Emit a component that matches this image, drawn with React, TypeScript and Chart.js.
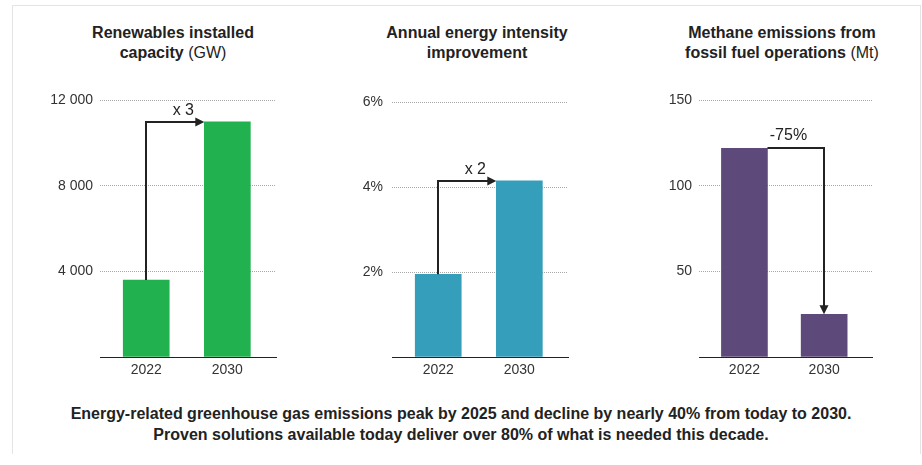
import React, { useEffect, useRef } from "react";
import { Chart, registerables } from "chart.js";

Chart.register(...registerables);

const categories = ["2022", "2030"];
const renewablesGW = [3600, 11000];
const intensityPct = [1.95, 4.15];
const methaneMt = [122, 25];

const renewablesTicks = [0, 4000, 8000, 12000];
const intensityTicks = [0, 2, 4, 6];
const methaneTicks = [0, 50, 100, 150];

const FONT = "'Liberation Sans', Arial, Helvetica, sans-serif";
const X_MIN = -0.57;
const X_MAX = 1.6;

type Mode = "up-right" | "right-down";

function makeArrowPlugin(mode: Mode, label: string) {
  return {
    id: "arrowNote",
    afterDatasetsDraw(chart: any) {
      const meta = chart.getDatasetMeta(0);
      const b0 = meta.data[0] as any;
      const b1 = meta.data[1] as any;
      const ctx = chart.ctx as CanvasRenderingContext2D;
      const head = 9;
      const hw = 4.5;
      ctx.save();
      ctx.strokeStyle = "#222";
      ctx.fillStyle = "#222";
      ctx.lineWidth = 2;
      let lx = 0;
      let ly = 0;
      if (mode === "up-right") {
        const x0 = Math.round(b0.x);
        const y0 = b0.y;
        const y1 = Math.round(b1.y);
        const x1 = b1.x - b1.width / 2;
        ctx.beginPath();
        ctx.moveTo(x0, y0);
        ctx.lineTo(x0, y1);
        ctx.lineTo(x1 - head + 1, y1);
        ctx.stroke();
        ctx.beginPath();
        ctx.moveTo(x1, y1);
        ctx.lineTo(x1 - head, y1 - hw);
        ctx.lineTo(x1 - head, y1 + hw);
        ctx.closePath();
        ctx.fill();
        lx = x1 - 21;
        ly = y1 - 11;
      } else {
        const x0 = b0.x + b0.width / 2;
        const y0 = Math.round(b0.y);
        const x1 = Math.round(b1.x);
        const y1 = b1.y;
        ctx.beginPath();
        ctx.moveTo(x0, y0);
        ctx.lineTo(x1, y0);
        ctx.lineTo(x1, y1 - head + 1);
        ctx.stroke();
        ctx.beginPath();
        ctx.moveTo(x1, y1);
        ctx.lineTo(x1 - hw, y1 - head);
        ctx.lineTo(x1 + hw, y1 - head);
        ctx.closePath();
        ctx.fill();
        lx = x0 + 21;
        ly = y0 - 12;
      }
      ctx.font = `16px ${FONT}`;
      ctx.textAlign = "center";
      ctx.textBaseline = "middle";
      ctx.fillText(label, lx, ly);
      ctx.restore();
    },
  };
}

type PanelProps = {
  values: number[];
  color: string;
  ticks: number[];
  fmt: (v: number) => string;
  mode: Mode;
  note: string;
  left: number;
  rightPad: number;
  labelPad: number;
};

function Panel(p: PanelProps) {
  const ref = useRef<HTMLCanvasElement | null>(null);
  useEffect(() => {
    if (!ref.current) return;
    const chart = new Chart(ref.current, {
      type: "bar",
      data: {
        datasets: [
          {
            data: categories.map((_, i) => ({ x: i, y: p.values[i] })),
            backgroundColor: p.color,
            barThickness: 46,
            borderWidth: 0,
          },
        ],
      },
      options: {
        animation: false,
        responsive: false,
        layout: { padding: { top: 15, right: p.rightPad, left: 0, bottom: 0 } },
        plugins: {
          legend: { display: false },
          tooltip: { enabled: false },
          title: { display: false },
        },
        scales: {
          x: {
            type: "linear",
            min: X_MIN,
            max: X_MAX,
            offset: false,
            bounds: "data",
            grace: 0,
            afterDataLimits: (scale: any) => {
              scale.min = X_MIN;
              scale.max = X_MAX;
            },
            afterBuildTicks: (scale: any) => {
              scale.ticks = categories.map((_, i) => ({ value: i }));
            },
            afterFit: (scale: any) => {
              scale.height = 28;
            },
            ticks: {
              callback: (v: any) => categories[v as number] ?? "",
              color: "#333",
              font: { family: FONT, size: 14 },
              padding: 5,
              maxRotation: 0,
              autoSkip: false,
            },
            grid: { display: false, drawTicks: false, offset: false },
            border: { display: true, color: "#222", width: 1 },
          },
          y: {
            min: p.ticks[0],
            max: p.ticks[p.ticks.length - 1],
            afterBuildTicks: (scale: any) => {
              scale.ticks = p.ticks.map((v) => ({ value: v }));
            },
            afterFit: (scale: any) => {
              scale.width = 60;
            },
            ticks: {
              callback: (v: any) => (v === 0 ? "" : p.fmt(v as number)),
              color: "#333",
              font: { family: FONT, size: 14 },
              padding: p.labelPad,
            },
            grid: {
              drawTicks: false,
              color: (c: any) => (c.tick && c.tick.value === 0 ? "rgba(0,0,0,0)" : "#a8a8a8"),
              lineWidth: 1,
            },
            border: { display: false, dash: [1, 1] },
          },
        },
      } as any,
      plugins: [makeArrowPlugin(p.mode, p.note)],
    });
    return () => chart.destroy();
  }, []);
  return (
    <canvas
      ref={ref}
      width={260}
      height={300}
      style={{ position: "absolute", left: p.left, top: 85, width: 260, height: 300 }}
    />
  );
}

const titleStyle: React.CSSProperties = {
  position: "absolute",
  top: 23,
  width: 300,
  textAlign: "center",
  fontFamily: FONT,
  fontSize: 16,
  lineHeight: "20px",
  color: "#222",
};

const fmtSpace = (v: number) => String(v).replace(/\B(?=(\d{3})+(?!\d))/g, " ");

export default function App() {
  return (
    <div
      style={{
        position: "absolute",
        left: 0,
        top: 0,
        width: 922,
        height: 465,
        background: "#fff",
        overflow: "hidden",
      }}
    >
      <div
        style={{
          position: "absolute",
          left: 12,
          top: 5,
          width: 907,
          height: 448,
          borderTop: "1px solid #e4e4e4",
          borderLeft: "1px solid #e4e4e4",
          borderRight: "1px solid #e4e4e4",
        }}
      />
      <div style={{ ...titleStyle, left: 173 - 150 }}>
        <b>Renewables installed</b>
        <br />
        <b>capacity</b> (GW)
      </div>
      <div style={{ ...titleStyle, left: 477 - 150 }}>
        <b>Annual energy intensity</b>
        <br />
        <b>improvement</b>
      </div>
      <div style={{ ...titleStyle, left: 782 - 150 }}>
        <b>Methane emissions from</b>
        <br />
        <b>fossil fuel operations</b> (Mt)
      </div>
      <Panel
        values={renewablesGW}
        color="#21b24f"
        ticks={renewablesTicks}
        fmt={fmtSpace}
        mode="up-right"
        note="x 3"
        left={40}
        rightPad={24}
        labelPad={7}
      />
      <Panel
        values={intensityPct}
        color="#359fbb"
        ticks={intensityTicks}
        fmt={(v) => `${v}%`}
        mode="up-right"
        note="x 2"
        left={332}
        rightPad={24}
        labelPad={9}
      />
      <Panel
        values={methaneMt}
        color="#5e4a7a"
        ticks={methaneTicks}
        fmt={(v) => String(v)}
        mode="right-down"
        note="-75%"
        left={639}
        rightPad={27}
        labelPad={7}
      />
      <div
        style={{
          position: "absolute",
          left: 0,
          top: 403,
          width: 922,
          textAlign: "center",
          fontFamily: FONT,
          fontWeight: "bold",
          fontSize: 16,
          lineHeight: "21px",
          color: "#222",
        }}
      >
        Energy-related greenhouse gas emissions peak by 2025 and decline by nearly 40% from today to 2030.
        <br />
        Proven solutions available today deliver over 80% of what is needed this decade.
      </div>
    </div>
  );
}
